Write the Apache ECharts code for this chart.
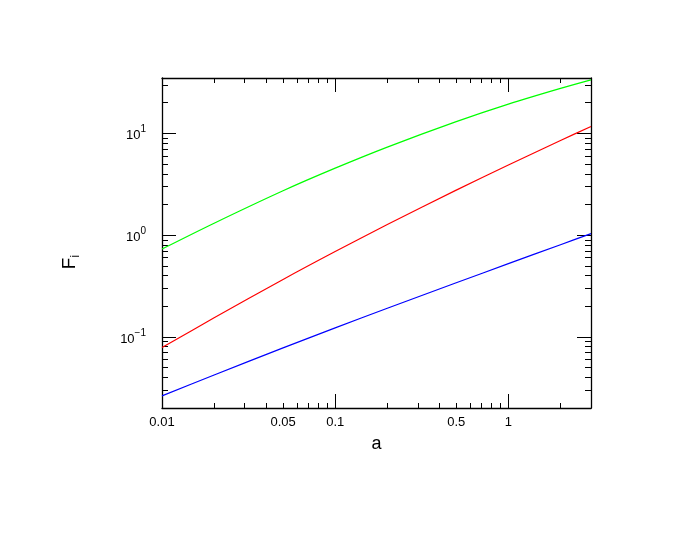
<!DOCTYPE html>
<html>
<head>
<meta charset="utf-8">
<script src="https://cdn.jsdelivr.net/npm/echarts@6/dist/echarts.min.js"></script>
<style>
  html, body { margin: 0; padding: 0; background: #fff; }
  #chart { width: 692px; height: 535px; }
</style>
</head>
<body>
<div id="chart"></div>
<script>
// ---- data ----
var aValues     = [0.01, 0.02, 0.05, 0.1, 0.2, 0.5, 1, 2, 3];
var greenValues = [0.73, 1.31, 2.73, 4.55, 7.33, 13.05, 19.4, 27.7, 33.6];
var redValues   = [0.0785, 0.154, 0.367, 0.69, 1.27, 2.77, 4.89, 8.5, 11.7];
var blueValues  = [0.0263, 0.0422, 0.078, 0.1225, 0.191, 0.34, 0.524, 0.805, 1.035];

var xMajorTicks = [0.01, 0.1, 1];
var xMinorTicks = [0.02, 0.03, 0.04, 0.05, 0.06, 0.07, 0.08, 0.09,
                   0.2, 0.3, 0.4, 0.5, 0.6, 0.7, 0.8, 0.9, 2, 3];
var xTickLabels = [0.01, 0.05, 0.1, 0.5, 1];
var xLabelText  = ['0.01', '0.05', '0.1', '0.5', '1'];

var yMajorTicks = [0.1, 1, 10];
var yMinorTicks = [0.02, 0.03, 0.04, 0.05, 0.06, 0.07, 0.08, 0.09,
                   0.2, 0.3, 0.4, 0.5, 0.6, 0.7, 0.8, 0.9,
                   2, 3, 4, 5, 6, 7, 8, 9, 20, 30];
var yTickLabels = [0.1, 1, 10];
var yLabelExp   = ['\u22121', '0', '1'];

var xMin = 0.01, xMax = 3;
var yMin = 0.02, yMax = 35;

function pairs(xs, ys) { return xs.map(function (x, i) { return [x, ys[i]]; }); }
function nearestIndex(arr, v) {
  var best = 0, bd = Infinity;
  arr.forEach(function (a, i) { var d = Math.abs(Math.log(a) - Math.log(v)); if (d < bd) { bd = d; best = i; } });
  return best;
}

var FONT = '"Liberation Sans", Arial, Helvetica, sans-serif';
var lineStyleAxis = { color: '#000', width: 1.3 };

function xAxisDef(pos, major, showLine, withLabels) {
  return {
    type: 'log', logBase: 10, min: xMin, max: xMax, position: pos,
    gridIndex: 0,
    axisLine: { show: showLine, onZero: false, lineStyle: lineStyleAxis },
    axisTick: { show: true, inside: true, length: major ? 14 : 5,
                customValues: major ? xMajorTicks : xMinorTicks,
                lineStyle: { color: '#000', width: 1 } },
    axisLabel: withLabels ? {
      show: true, customValues: xTickLabels, margin: 8,
      fontFamily: FONT, fontSize: 13, color: '#000',
      formatter: function (v) { return xLabelText[nearestIndex(xTickLabels, v)]; }
    } : { show: false },
    splitLine: { show: false }, minorTick: { show: false }, minorSplitLine: { show: false }
  };
}
function yAxisDef(pos, major, showLine, withLabels) {
  return {
    type: 'log', logBase: 10, min: yMin, max: yMax, position: pos,
    gridIndex: 0,
    axisLine: { show: showLine, onZero: false, lineStyle: lineStyleAxis },
    axisTick: { show: true, inside: true, length: major ? 14 : 6,
                customValues: major ? yMajorTicks : yMinorTicks,
                lineStyle: { color: '#000', width: 1 } },
    axisLabel: withLabels ? {
      show: true, customValues: yTickLabels, margin: 16,
      formatter: function (v) { return '{m|10}{s|' + yLabelExp[nearestIndex(yTickLabels, v)] + '}'; },
      rich: {
        m: { fontFamily: FONT, fontSize: 13, color: '#000', lineHeight: 18, verticalAlign: 'bottom' },
        s: { fontFamily: FONT, fontSize: 10, color: '#000', verticalAlign: 'top', lineHeight: 18 }
      }
    } : { show: false },
    splitLine: { show: false }, minorTick: { show: false }, minorSplitLine: { show: false }
  };
}

var xAxes = [
  xAxisDef('bottom', true, true, true),
  xAxisDef('bottom', false, false, false),
  xAxisDef('top', true, true, false),
  xAxisDef('top', false, false, false)
];
xAxes[0].name = 'a';
xAxes[0].nameLocation = 'middle';
xAxes[0].nameGap = 27;
xAxes[0].nameTextStyle = { fontFamily: FONT, fontSize: 18, color: '#000' };

var yAxes = [
  yAxisDef('left', true, true, true),
  yAxisDef('left', false, false, false),
  yAxisDef('right', true, true, false),
  yAxisDef('right', false, false, false)
];
yAxes[0].name = '{F|F}{i|i}';
yAxes[0].nameLocation = 'middle';
yAxes[0].nameGap = 80;
yAxes[0].nameRotate = 90;
yAxes[0].nameTextStyle = {
  padding: [0, 38, 0, 0],
  rich: {
    F: { fontFamily: FONT, fontSize: 19, color: '#000', lineHeight: 22, verticalAlign: 'top' },
    i: { fontFamily: FONT, fontSize: 12, color: '#000', lineHeight: 22, verticalAlign: 'bottom' }
  }
};

function lineSeries(name, ys, color) {
  return {
    name: name, type: 'line', xAxisIndex: 0, yAxisIndex: 0,
    data: pairs(aValues, ys), smooth: 0.3, showSymbol: false, symbol: 'none',
    lineStyle: { color: color, width: 1.2 }, silent: true, animation: false
  };
}

var chart = echarts.init(document.getElementById('chart'), null, { renderer: 'canvas' });
chart.setOption({
  backgroundColor: '#fff',
  animation: false,
  grid: { left: 162, top: 78, right: 101, bottom: 127, containLabel: false },
  xAxis: xAxes,
  yAxis: yAxes,
  series: [
    lineSeries('green', greenValues, '#00ff00'),
    lineSeries('red', redValues, '#ff0000'),
    lineSeries('blue', blueValues, '#0000ff')
  ]
});
</script>
</body>
</html>
